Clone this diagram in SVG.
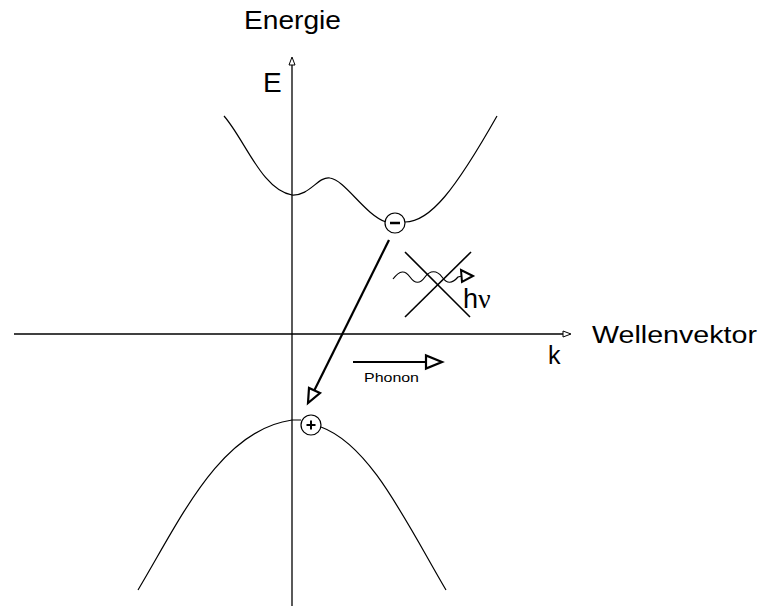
<svg xmlns="http://www.w3.org/2000/svg" width="760" height="607" viewBox="0 0 760 607">
<defs>
<style>
.t{font-family:"Liberation Sans",Arial,sans-serif;fill:#000}
.c{fill:none;stroke:#000;stroke-width:1.2}
.ax{fill:none;stroke:#000;stroke-width:1.3}
.th{fill:none;stroke:#000;stroke-width:2.2}
.circ{fill:#fff;stroke:#000;stroke-width:1.2}
</style>
</defs>
<rect width="760" height="607" fill="#fff"/>
<g id="axes">
<line class="ax" x1="292" y1="606" x2="292" y2="62"/>
<path d="M292,57 L289,65 L295,65 Z" fill="#fff" stroke="#000" stroke-width="1"/>
<line class="ax" x1="14" y1="334" x2="566" y2="334"/>
<path d="M571,334 L563,331 L563,337 Z" fill="#fff" stroke="#000" stroke-width="1"/>
<text class="t" x="244" y="29" font-size="25" textLength="97" lengthAdjust="spacingAndGlyphs">Energie</text>
<text class="t" x="263" y="92" font-size="28">E</text>
<text class="t" x="592" y="343" font-size="23" textLength="165" lengthAdjust="spacingAndGlyphs">Wellenvektor</text>
<text class="t" x="548" y="364" font-size="25">k</text>
</g>
<g id="conduction-band">
<path class="c" d="M224,116 C245,140 262,190 292,195 C310,196 318,176 330,178 C345,180 365,215 386,222"/>
<path class="c" d="M405,222 C430,222 455,190 497,116"/>
</g>
<g id="electron">
<circle class="circ" cx="395" cy="223" r="10"/>
<line x1="390" y1="223" x2="400" y2="223" stroke="#000" stroke-width="2.5"/>
</g>
<g id="valence-band">
<path class="c" d="M138,590 C180,520 220,430 292,420 L301,420"/>
<path class="c" d="M321,427 C370,445 405,520 446,590"/>
</g>
<g id="hole">
<circle class="circ" cx="311" cy="425" r="10"/>
<path d="M311,420.5 V429.5 M306.5,425 H315.5" stroke="#000" stroke-width="2"/>
</g>
<g id="connectors">
<line class="th" x1="389" y1="240" x2="313" y2="393"/>
<path d="M308,403 L309,388 L320,393 Z" fill="#fff" stroke="#000" stroke-width="2.2" stroke-linejoin="miter"/>
<line class="th" x1="353" y1="362" x2="427" y2="362"/>
<path d="M442,362 L426,355.5 L426,368.5 Z" fill="#fff" stroke="#000" stroke-width="2.2"/>
<path class="c" stroke-width="1.6" d="M393,279 C400,270 405,270 410,277 C415,284 420,284 425,277 C430,270 437,270 442,277 C447,284 452,284 458,277 L462,276"/>
<path d="M473,276 L461,270 L462,282 Z" fill="#fff" stroke="#000" stroke-width="2"/>
<line x1="405" y1="252" x2="470" y2="317" stroke="#000" stroke-width="1.6"/>
<line x1="471" y1="252" x2="405" y2="317" stroke="#000" stroke-width="1.6"/>
</g>
<g id="labels">
<text class="t" x="364" y="382" font-size="13" textLength="55" lengthAdjust="spacingAndGlyphs">Phonon</text>
<text class="t" x="463" y="308" font-size="27">h<tspan font-family="'Liberation Serif','Times New Roman',serif" font-size="28">ν</tspan></text>
</g>
</svg>
